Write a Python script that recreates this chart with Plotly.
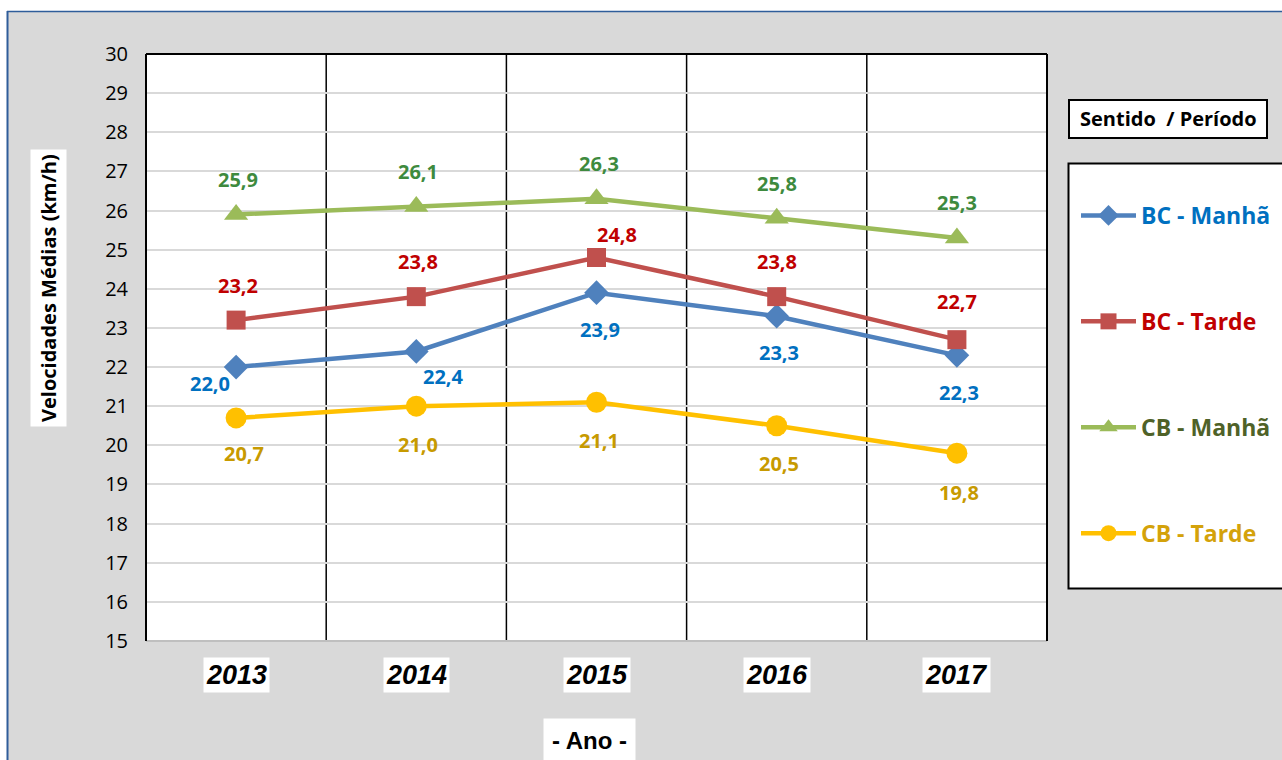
import plotly.graph_objects as go

# Data
anos = ["2013", "2014", "2015", "2016", "2017"]
bc_manha = [22.0, 22.4, 23.9, 23.3, 22.3]
bc_tarde = [23.2, 23.8, 24.8, 23.8, 22.7]
cb_manha = [25.9, 26.1, 26.3, 25.8, 25.3]
cb_tarde = [20.7, 21.0, 21.1, 20.5, 19.8]

series_names = ["BC - Manhã", "BC - Tarde", "CB - Manhã", "CB - Tarde"]

# Styles
line_colors = ["#4F81BD", "#C0504D", "#9BBB59", "#FFC000"]
label_colors = ["#0070C0", "#C00000", "#3E8A3E", "#C79A00"]
legend_text_colors = ["#0070C0", "#C00000", "#4F6228", "#D4A20A"]
symbols = ["diamond", "square", "triangle-up", "circle"]
marker_sizes = [19, 19, 21, 21]

# Data-label pixel offsets (dx, dy) per point
label_offsets = [
    [(-26, -16), (27, -25), (3, -37), (2, -36), (2, -37)],
    [(2, 35), (2, 35), (20, 23), (0, 35), (0, 38)],
    [(2, 35), (2, 35), (2, 35), (0, 35), (0, 35)],
    [(8, -36), (2, -38), (2, -38), (2, -38), (2, -39)],
]

all_series = [bc_manha, bc_tarde, cb_manha, cb_tarde]

W, H = 1282, 760
L, R, T, B = 146, 1047, 54, 641  # plot area in pixels


def px(x):
    return (x - L) / (R - L)


def py(y):
    return (B - y) / (B - T)


fig = go.Figure()

for i, vals in enumerate(all_series):
    fig.add_trace(go.Scatter(
        x=anos, y=vals, mode="lines+markers",
        name=f"<b><span style='color:{legend_text_colors[i]}'>{series_names[i]}</span></b>",
        line=dict(color=line_colors[i], width=4.5),
        marker=dict(symbol=symbols[i], size=marker_sizes[i], color=line_colors[i]),
        legendgroup=f"g{i}",
        cliponaxis=False,
    ))

annotations = []
for i, vals in enumerate(all_series):
    for j, v in enumerate(vals):
        dx, dy = label_offsets[i][j]
        annotations.append(dict(
            x=j, y=v, xref="x", yref="y",
            xanchor="center", yanchor="middle",
            text=f"<b>{v:.1f}".replace(".", ",") + "</b>",
            showarrow=False, xshift=dx, yshift=dy,
            font=dict(family="Open Sans", size=20, color=label_colors[i]),
        ))

# Category labels with white boxes
for j, a in enumerate(anos):
    annotations.append(dict(
        x=j, y=py(675), xref="x", yref="paper",
        xanchor="center", yanchor="middle",
        text=f"<b><i>{a}</i></b>", showarrow=False,
        bgcolor="white", borderpad=2,
        font=dict(family="Liberation Sans", size=27, color="black"),
    ))

annotations.append(dict(
    x=px(589), y=py(740), xref="paper", yref="paper",
    xanchor="center", yanchor="middle",
    text="<b>- Ano -</b>", showarrow=False, bgcolor="white", borderpad=8,
    font=dict(family="Liberation Sans", size=24, color="black"),
))

annotations.append(dict(
    x=px(48), y=py(288), xref="paper", yref="paper",
    xanchor="center", yanchor="middle",
    text="<b>Velocidades Médias (km/h)</b>", textangle=-90, showarrow=False,
    bgcolor="white", borderpad=4,
    font=dict(family="Open Sans", size=20, color="black"),
))

annotations.append(dict(
    x=px(1168), y=py(119), xref="paper", yref="paper",
    xanchor="center", yanchor="middle",
    text="<b>Sentido\u00a0\u00a0/ Período</b>", showarrow=False,
    font=dict(family="Open Sans", size=20, color="black"),
))

shapes = [
    # outer white margin strips and blue frame
    dict(type="rect", xref="paper", yref="paper", x0=px(-5), x1=px(7), y0=py(770), y1=py(-5),
         fillcolor="white", line=dict(width=0), layer="below"),
    dict(type="rect", xref="paper", yref="paper", x0=px(-5), x1=px(1290), y0=py(11), y1=py(-5),
         fillcolor="white", line=dict(width=0), layer="below"),
    dict(type="line", xref="paper", yref="paper", x0=px(7.5), x1=px(7.5), y0=py(11), y1=py(765),
         line=dict(color="#2F5D9A", width=2)),
    dict(type="line", xref="paper", yref="paper", x0=px(7), x1=px(1290), y0=py(11.5), y1=py(11.5),
         line=dict(color="#2F5D9A", width=1.5)),
    # legend title box
    dict(type="rect", xref="paper", yref="paper", x0=px(1069), x1=px(1267), y0=py(138), y1=py(100),
         fillcolor="white", line=dict(color="black", width=2)),
    # legend box
    dict(type="rect", xref="paper", yref="paper", x0=px(1068.5), x1=px(1295), y0=py(588.5), y1=py(163.5),
         fillcolor="white", line=dict(color="black", width=2)),
    # plot frame
    dict(type="line", xref="paper", yref="paper", x0=0, x1=1, y0=0, y1=0,
         line=dict(color="#BFBFBF", width=2)),
    dict(type="line", xref="paper", yref="paper", x0=0, x1=1, y0=1, y1=1,
         line=dict(color="black", width=2)),
    dict(type="line", xref="paper", yref="paper", x0=0, x1=0, y0=0, y1=1,
         line=dict(color="black", width=2)),
    dict(type="line", xref="paper", yref="paper", x0=1, x1=1, y0=0, y1=1,
         line=dict(color="black", width=2)),
]
# separators between years
for k in range(len(anos) - 1):
    shapes.append(dict(type="line", xref="x", yref="paper", x0=k + 0.5, x1=k + 0.5, y0=0, y1=1,
                       line=dict(color="black", width=1.5), layer="below"))

fig.update_layout(
    width=W, height=H,
    margin=dict(l=L, r=W - R, t=T, b=H - B, pad=0, autoexpand=False),
    paper_bgcolor="#D9D9D9",
    plot_bgcolor="white",
    font=dict(family="Open Sans", color="black"),
    xaxis=dict(type="category", range=[-0.5, 4.5], showticklabels=False, showgrid=False,
               zeroline=False, showline=False, ticks=""),
    yaxis=dict(range=[15, 30], dtick=1, showgrid=True, gridcolor="#D9D9D9", gridwidth=1.5,
               zeroline=False, showline=False, ticks="", ticklabelstandoff=17,
               tickfont=dict(family="Open Sans", size=20, color="black")),
    showlegend=True,
    legend=dict(x=px(1076), y=py(194), xanchor="left", yanchor="top",
                bgcolor="rgba(0,0,0,0)", borderwidth=0,
                font=dict(family="Open Sans", size=23),
                tracegroupgap=73, itemwidth=55),
    annotations=annotations,
    shapes=shapes,
)

fig.write_html("out.html")
